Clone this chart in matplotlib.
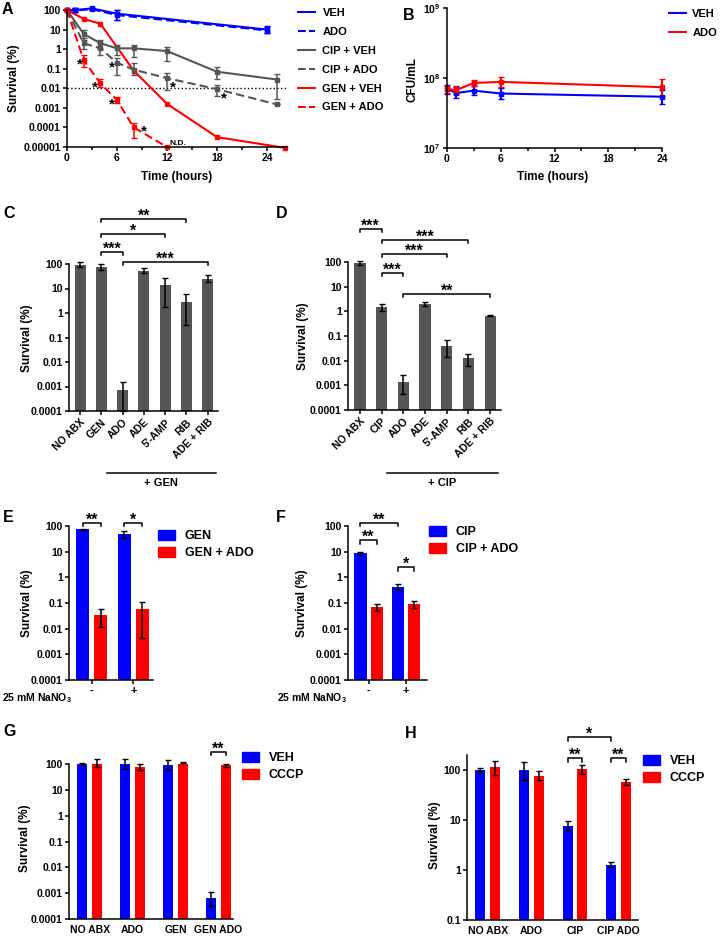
import numpy as np
import matplotlib
matplotlib.use('Agg')
import matplotlib.pyplot as plt
from matplotlib.lines import Line2D
from matplotlib.patches import Patch
from matplotlib.ticker import NullLocator
import matplotlib.transforms as mtransforms

plt.rcParams['font.family'] = 'Liberation Sans'
plt.rcParams['font.weight'] = 'bold'
plt.rcParams['axes.labelweight'] = 'bold'
plt.rcParams['mathtext.fontset'] = 'custom'
plt.rcParams['mathtext.rm'] = 'Liberation Sans:bold'
plt.rcParams['mathtext.bf'] = 'Liberation Sans:bold'
plt.rcParams['mathtext.it'] = 'Liberation Sans:bold'

BLUE = '#0000FF'
RED = '#FF0000'
GRAY = '#555555'

# ---- panel A : time-kill curves ----
a_t_veh = [0, 1, 3, 6, 24]
a_veh = [100, 100, 120, 65, 10]
a_veh_lo = [90, 80, 110, 30, 7]
a_veh_hi = [110, 125, 130, 100, 15]
a_ado = [100, 95, 110, 55, 9]
a_ado_lo = [90, 80, 100, 30, 6.5]
a_ado_hi = [110, 120, 125, 95, 14]

a_t_cip = [0, 2, 4, 6, 8, 12, 18, 25.2]
a_cip_veh = [100, 6, 2, 1.1, 1.1, 0.8, 0.07, 0.028]
a_cip_veh_lo = [100, 3, 1.2, 0.5, 0.4, 0.25, 0.03, 0.003]
a_cip_veh_hi = [100, 10, 3, 1.6, 1.7, 1.3, 0.12, 0.055]
a_cip_ado = [100, 2, 1.1, 0.2, 0.09, 0.033, 0.009, 0.0015]
a_cip_ado_lo = [100, 1, 0.5, 0.05, 0.05, 0.008, 0.004, 0.0015]
a_cip_ado_hi = [100, 3.5, 2, 0.35, 0.2, 0.06, 0.015, 0.0015]

a_t_gen_veh = [0, 2, 4, 8, 12, 18, 26.2]
a_gen_veh = [100, 35, 20, 0.08, 0.0016, 3.2e-5, 9e-6]
a_t_gen_ado = [0, 2, 4, 6, 8, 12]
a_gen_ado = [100, 0.27, 0.018, 0.0025, 0.0001, 1e-5]
a_gen_ado_lo = [100, 0.12, 0.012, 0.0018, 0.00003, 1e-5]
a_gen_ado_hi = [100, 0.5, 0.03, 0.0035, 0.00016, 1e-5]

# ---- panel B : CFU ----
b_t = [0, 1, 3, 6, 24]
b_veh = [7e7, 6.1e7, 6.6e7, 6e7, 5.4e7]
b_veh_lo = [6e7, 5.2e7, 5.8e7, 5e7, 4.2e7]
b_veh_hi = [8e7, 7.5e7, 7.6e7, 7.2e7, 6.8e7]
b_ado = [7e7, 6.7e7, 8.5e7, 8.8e7, 7.4e7]
b_ado_lo = [6.2e7, 6e7, 7.8e7, 7.5e7, 5.5e7]
b_ado_hi = [7.8e7, 7.8e7, 9.3e7, 1.02e8, 9.7e7]

# ---- panel C / D ----
c_labels = ['NO ABX', 'GEN', 'ADO', 'ADE', "5'-AMP", 'RIB', 'ADE + RIB']
c_vals = [95, 75, 0.0007, 52, 14, 2.9, 25]
c_lo = [72, 55, 0.0001, 42, 1.8, 0.32, 18]
c_hi = [125, 100, 0.0015, 68, 26, 5.7, 34]

d_labels = ['NO ABX', 'CIP', 'ADO', 'ADE', "5'-AMP", 'RIB', 'ADE + RIB']
d_vals = [95, 1.5, 0.0014, 1.9, 0.039, 0.0126, 0.66]
d_lo = [75, 1.0, 0.00045, 1.6, 0.014, 0.0063, 0.63]
d_hi = [115, 2.0, 0.0027, 2.3, 0.067, 0.019, 0.69]

# ---- panel E / F ----
ef_groups = ['-', '+']
e_gen = [75, 47]
e_gen_lo = [72, 34]
e_gen_hi = [78, 64]
e_genado = [0.035, 0.06]
e_genado_lo = [0.012, 0.0043]
e_genado_hi = [0.058, 0.11]

f_cip = [8.7, 0.41]
f_cip_lo = [7.4, 0.31]
f_cip_hi = [10, 0.54]
f_cipado = [0.069, 0.089]
f_cipado_lo = [0.05, 0.066]
f_cipado_hi = [0.094, 0.12]

# ---- panel G / H ----
g_groups = ['NO ABX', 'ADO', 'GEN', 'GEN ADO']
g_veh = [100, 105, 92, 0.00065]
g_veh_lo = [88, 62, 59, 0.00031]
g_veh_hi = [110, 155, 140, 0.0011]
g_cccp = [115, 79, 115, 89]
g_cccp_lo = [79, 59, 110, 75]
g_cccp_hi = [156, 100, 120, 100]

h_groups = ['NO ABX', 'ADO', 'CIP', 'CIP ADO']
h_veh = [100, 100, 7.6, 1.26]
h_veh_lo = [88, 63, 5.9, 1.13]
h_veh_hi = [111, 142, 9.6, 1.43]
h_cccp = [113, 77, 103, 58]
h_cccp_lo = [79, 63, 82, 50]
h_cccp_hi = [154, 95, 126, 66]

surv_ticks = [1e-5, 1e-4, 1e-3, 1e-2, 1e-1, 1, 10, 100]
surv_labels = ['0.00001', '0.0001', '0.001', '0.01', '0.1', '1', '10', '100']

W, H = 720, 936
fig = plt.figure(figsize=(7.2, 9.36), dpi=100)


def px(x, y):
    return x / W, 1 - y / H


def add_ax(x0, y0, x1, y1):
    ax = fig.add_axes([x0 / W, 1 - y1 / H, (x1 - x0) / W, (y1 - y0) / H])
    ax.spines['top'].set_visible(False)
    ax.spines['right'].set_visible(False)
    ax.spines['left'].set_linewidth(1.1)
    ax.spines['bottom'].set_linewidth(1.1)
    ax.tick_params(width=1.1, length=3, labelsize=7.5, pad=1.5)
    ax.tick_params(which='minor', width=1.1, length=2)
    return ax


def errs(v, lo, hi):
    v = np.array(v)
    return [v - np.array(lo), np.array(hi) - v]


def survival_axis(ax, lowest):
    ax.set_yscale('log')
    keep = [i for i, t in enumerate(surv_ticks) if t >= lowest]
    ax.set_yticks([surv_ticks[i] for i in keep], [surv_labels[i] for i in keep])
    ax.yaxis.set_minor_locator(NullLocator())


def ylab(ax, text, x, y):
    ax.set_ylabel(text, fontsize=8.5, va='center')
    ax.yaxis.set_label_coords(*px(x, y), transform=fig.transFigure)


def bracket(ax, x1, x2, y, drop, label, fs=11.5):
    ax.plot([x1, x1, x2, x2], [y / drop, y, y, y / drop], color='black',
            lw=1.1, clip_on=False)
    ax.annotate(label, ((x1 + x2) / 2, y), xytext=(0, -3.5),
                textcoords='offset points', ha='center', va='bottom',
                fontsize=fs, fontweight='bold', annotation_clip=False)


def letter(ch, x, y):
    fig.text(*px(x, y), ch, fontsize=11.5, fontweight='bold', va='center', ha='left')


# ================= A =================
axA = add_ax(67, 10, 287, 147)
axA.set_yscale('log')
axA.axhline(0.01, color='black', ls=':', lw=1)
series = [
    (a_t_veh, a_veh, a_veh_lo, a_veh_hi, BLUE, '-'),
    (a_t_veh, a_ado, a_ado_lo, a_ado_hi, BLUE, '--'),
    (a_t_cip, a_cip_veh, a_cip_veh_lo, a_cip_veh_hi, GRAY, '-'),
    (a_t_cip, a_cip_ado, a_cip_ado_lo, a_cip_ado_hi, GRAY, '--'),
    (a_t_gen_ado, a_gen_ado, a_gen_ado_lo, a_gen_ado_hi, RED, '--'),
]
for t, v, lo, hi, c, ls in series:
    axA.errorbar(t, v, yerr=errs(v, lo, hi), color=c, ls=ls, lw=1.5, marker='s',
                 ms=2.2, capsize=2, elinewidth=1.1, clip_on=False,
                 dashes=(4, 2) if ls == '--' else (None, None))
axA.plot(a_t_gen_veh, a_gen_veh, color=RED, lw=1.5, marker='s', ms=2.2, clip_on=False)
axA.set_ylim(1e-5, 100)
axA.set_xlim(0, 26.4)
survival_axis(axA, 1e-5)
axA.set_xticks([0, 6, 12, 18, 24])
axA.set_xticks([3, 9, 15, 21], minor=True)
axA.set_xlabel('Time (hours)', fontsize=8.5, va='center')
axA.xaxis.set_label_coords(*px(177, 177), transform=fig.transFigure)
ylab(axA, 'Survival (%)', 14, 78)
axA.text(12.3, 1e-5, 'N.D.', fontsize=6, va='bottom', ha='left')
stars_a = [(1.5, 0.26), (5.4, 0.2), (3.3, 0.017), (5.4, 0.0025), (9.2, 0.0001),
           (12.7, 0.017), (18.8, 0.005)]
for sx, sy in stars_a:
    axA.annotate('*', (sx, sy), xytext=(0, -3), textcoords='offset points',
                 fontsize=11, ha='center', va='center')

leg_lines = [Line2D([], [], color=BLUE, lw=1.5), Line2D([], [], color=BLUE, lw=1.5, ls='--'),
             Line2D([], [], color=GRAY, lw=1.5), Line2D([], [], color=GRAY, lw=1.5, ls='--'),
             Line2D([], [], color=RED, lw=1.5), Line2D([], [], color=RED, lw=1.5, ls='--')]
axA.legend(leg_lines, ['VEH', 'ADO', 'CIP + VEH', 'CIP + ADO', 'GEN + VEH', 'GEN + ADO'],
           loc='upper left', bbox_to_anchor=px(298, 8), bbox_transform=fig.transFigure,
           frameon=False, fontsize=8, handlelength=1.5, handletextpad=0.7,
           labelspacing=0.8, borderpad=0, borderaxespad=0)
letter('A', 2, 10)

# ================= B =================
axB = add_ax(447, 8, 662, 148)
axB.set_yscale('log')
axB.errorbar(b_t, b_veh, yerr=errs(b_veh, b_veh_lo, b_veh_hi), color=BLUE, lw=1.5,
             marker='s', ms=2.2, capsize=2, clip_on=False, label='VEH')
axB.errorbar(b_t, b_ado, yerr=errs(b_ado, b_ado_lo, b_ado_hi), color=RED, lw=1.5,
             marker='s', ms=2.2, capsize=2, clip_on=False, label='ADO')
axB.set_ylim(1e7, 1e9)
axB.set_xlim(0, 24)
axB.set_yticks([1e7, 1e8, 1e9], [r'$10^7$', r'$10^8$', r'$10^9$'])
axB.yaxis.set_minor_locator(NullLocator())
axB.set_xticks([0, 6, 12, 18, 24])
axB.set_xticks([3, 9, 15, 21], minor=True)
axB.set_xlabel('Time (hours)', fontsize=8.5, va='center')
axB.xaxis.set_label_coords(*px(553, 177), transform=fig.transFigure)
ylab(axB, 'CFU/mL', 412, 80)
axB.legend([Line2D([], [], color=BLUE, lw=1.5), Line2D([], [], color=RED, lw=1.5)],
           ['VEH', 'ADO'], loc='upper left', bbox_to_anchor=px(669, 9),
           bbox_transform=fig.transFigure, frameon=False, fontsize=8,
           handlelength=1.5, handletextpad=0.6, labelspacing=0.8, borderpad=0,
           borderaxespad=0)
letter('B', 403, 15)


# ================= C / D =================
def bar7(ax, labels, vals, lo, hi):
    x = np.arange(len(labels))
    ax.bar(x, np.array(vals) - 1e-4, bottom=1e-4, width=0.52, color=GRAY)
    ax.errorbar(x, vals, yerr=errs(vals, lo, hi), fmt='none', ecolor='black',
                elinewidth=1.1, capsize=2, clip_on=False)
    ax.set_ylim(1e-4, 100)
    survival_axis(ax, 1e-4)
    ax.set_xticks(x, labels, rotation=45, ha='right', va='top', rotation_mode='anchor',
                  fontsize=7.5)
    return x


axC = add_ax(69, 264, 218, 411)
axC.set_yscale('log')
bar7(axC, c_labels, c_vals, c_lo, c_hi)
axC.set_xlim(-0.52, 6.48)
ylab(axC, 'Survival (%)', 27, 338)
bracket(axC, 1, 5, 6900, 1.35, '**')
bracket(axC, 1, 4, 1700, 1.35, '*')
bracket(axC, 1, 2, 310, 1.35, '***')
bracket(axC, 2, 6, 120, 1.35, '***')
tr = mtransforms.blended_transform_factory(axC.transData, fig.transFigure)
axC.plot([1.25, 6.38], [px(0, 473)[1]] * 2, color='black', lw=1.1, transform=tr, clip_on=False)
axC.text(3.82, px(0, 483)[1], '+ GEN', transform=tr, ha='center', va='center', fontsize=8)
letter('C', 3, 213)

axD = add_ax(348, 262, 501, 410)
axD.set_yscale('log')
bar7(axD, d_labels, d_vals, d_lo, d_hi)
axD.set_xlim(-0.55, 6.5)
ylab(axD, 'Survival (%)', 303, 336)
bracket(axD, 0, 1, 2180, 1.35, '***')
bracket(axD, 1, 5, 780, 1.35, '***')
bracket(axD, 1, 4, 210, 1.35, '***')
bracket(axD, 1, 2, 36, 1.35, '***')
bracket(axD, 2, 6, 5, 1.35, '**')
tr = mtransforms.blended_transform_factory(axD.transData, fig.transFigure)
axD.plot([1.25, 6.35], [px(0, 473)[1]] * 2, color='black', lw=1.1, transform=tr, clip_on=False)
axD.text(3.8, px(0, 483)[1], '+ CIP', transform=tr, ha='center', va='center', fontsize=8)
letter('D', 276, 213)


# ================= E / F / G / H : paired bars =================
def pair_bars(ax, n, a, a_lo, a_hi, b, b_lo, b_hi, off, width, bottom, names, leg_xy):
    x = np.arange(n)
    ax.bar(x - off, np.array(a) - bottom, bottom=bottom, width=width, color=BLUE, label=names[0])
    ax.bar(x + off, np.array(b) - bottom, bottom=bottom, width=width, color=RED, label=names[1])
    ax.errorbar(x - off, a, yerr=errs(a, a_lo, a_hi), fmt='none', ecolor='black',
                elinewidth=1.1, capsize=2, clip_on=False)
    ax.errorbar(x + off, b, yerr=errs(b, b_lo, b_hi), fmt='none', ecolor='black',
                elinewidth=1.1, capsize=2, clip_on=False)
    ax.legend([Patch(color=BLUE), Patch(color=RED)], names, loc='upper left',
              bbox_to_anchor=px(*leg_xy), bbox_transform=fig.transFigure, frameon=False,
              fontsize=9, handlelength=1.35, handleheight=0.8, handletextpad=0.8,
              labelspacing=0.4, borderpad=0, borderaxespad=0)
    return x


axE = add_ax(69, 526, 153, 680)
axE.set_yscale('log')
xe = pair_bars(axE, 2, e_gen, e_gen_lo, e_gen_hi, e_genado, e_genado_lo, e_genado_hi,
               0.217, 0.31, 1e-4, ['GEN', 'GEN + ADO'], (158, 530))
axE.set_ylim(1e-4, 100)
axE.set_xlim(-0.55, 1.47)
survival_axis(axE, 1e-4)
axE.set_xticks(xe, ef_groups, fontsize=8)
ylab(axE, 'Survival (%)', 27, 603)
fig.text(*px(2, 698), r'25 mM NaNO$_3$', fontsize=7.5, va='center', ha='left')
bracket(axE, -0.217, 0.217, 134, 1.4, '**')
bracket(axE, 0.783, 1.217, 134, 1.4, '*')
letter('E', 3, 517)

axF = add_ax(348, 526, 427, 680)
axF.set_yscale('log')
xf = pair_bars(axF, 2, f_cip, f_cip_lo, f_cip_hi, f_cipado, f_cipado_lo, f_cipado_hi,
               0.22, 0.33, 1e-4, ['CIP', 'CIP + ADO'], (429, 526))
axF.set_ylim(1e-4, 100)
axF.set_xlim(-0.55, 1.56)
survival_axis(axF, 1e-4)
axF.set_xticks(xf, ef_groups, fontsize=8)
ylab(axF, 'Survival (%)', 302, 603)
fig.text(*px(277, 698), r'25 mM NaNO$_3$', fontsize=7.5, va='center', ha='left')
bracket(axF, -0.22, 0.78, 134, 1.4, '**')
bracket(axF, -0.22, 0.22, 28.5, 1.4, '**')
bracket(axF, 0.78, 1.22, 2.5, 1.4, '*')
letter('F', 276, 517)

axG = add_ax(69, 764, 233, 919)
axG.set_yscale('log')
xg = pair_bars(axG, 4, g_veh, g_veh_lo, g_veh_hi, g_cccp, g_cccp_lo, g_cccp_hi,
               0.17, 0.23, 1e-4, ['VEH', 'CCCP'], (242, 752))
axG.set_ylim(1e-4, 100)
axG.set_xlim(-0.48, 3.34)
survival_axis(axG, 1e-4)
axG.set_xticks(xg, g_groups, fontsize=7.5)
axG.tick_params(axis='x', length=0, pad=4)
ylab(axG, 'Survival (%)', 25, 838)
bracket(axG, 2.83, 3.17, 290, 1.35, '**')
letter('G', 3, 731)

axH = add_ax(467, 755, 638, 920)
axH.set_yscale('log')
xh = pair_bars(axH, 4, h_veh, h_veh_lo, h_veh_hi, h_cccp, h_cccp_lo, h_cccp_hi,
               0.17, 0.23, 0.1, ['VEH', 'CCCP'], (643, 755))
axH.set_ylim(0.1, 200)
axH.set_xlim(-0.48, 3.45)
survival_axis(axH, 0.1)
axH.set_xticks(xh, h_groups, fontsize=7.5)
axH.tick_params(axis='x', length=0, pad=4)
ylab(axH, 'Survival (%)', 435, 835)
bracket(axH, 1.83, 2.17, 174, 1.2, '**')
bracket(axH, 2.83, 3.17, 174, 1.2, '**')
bracket(axH, 1.83, 2.83, 457, 1.2, '*')
letter('H', 405, 733)

fig.savefig('out.png', dpi=100)
